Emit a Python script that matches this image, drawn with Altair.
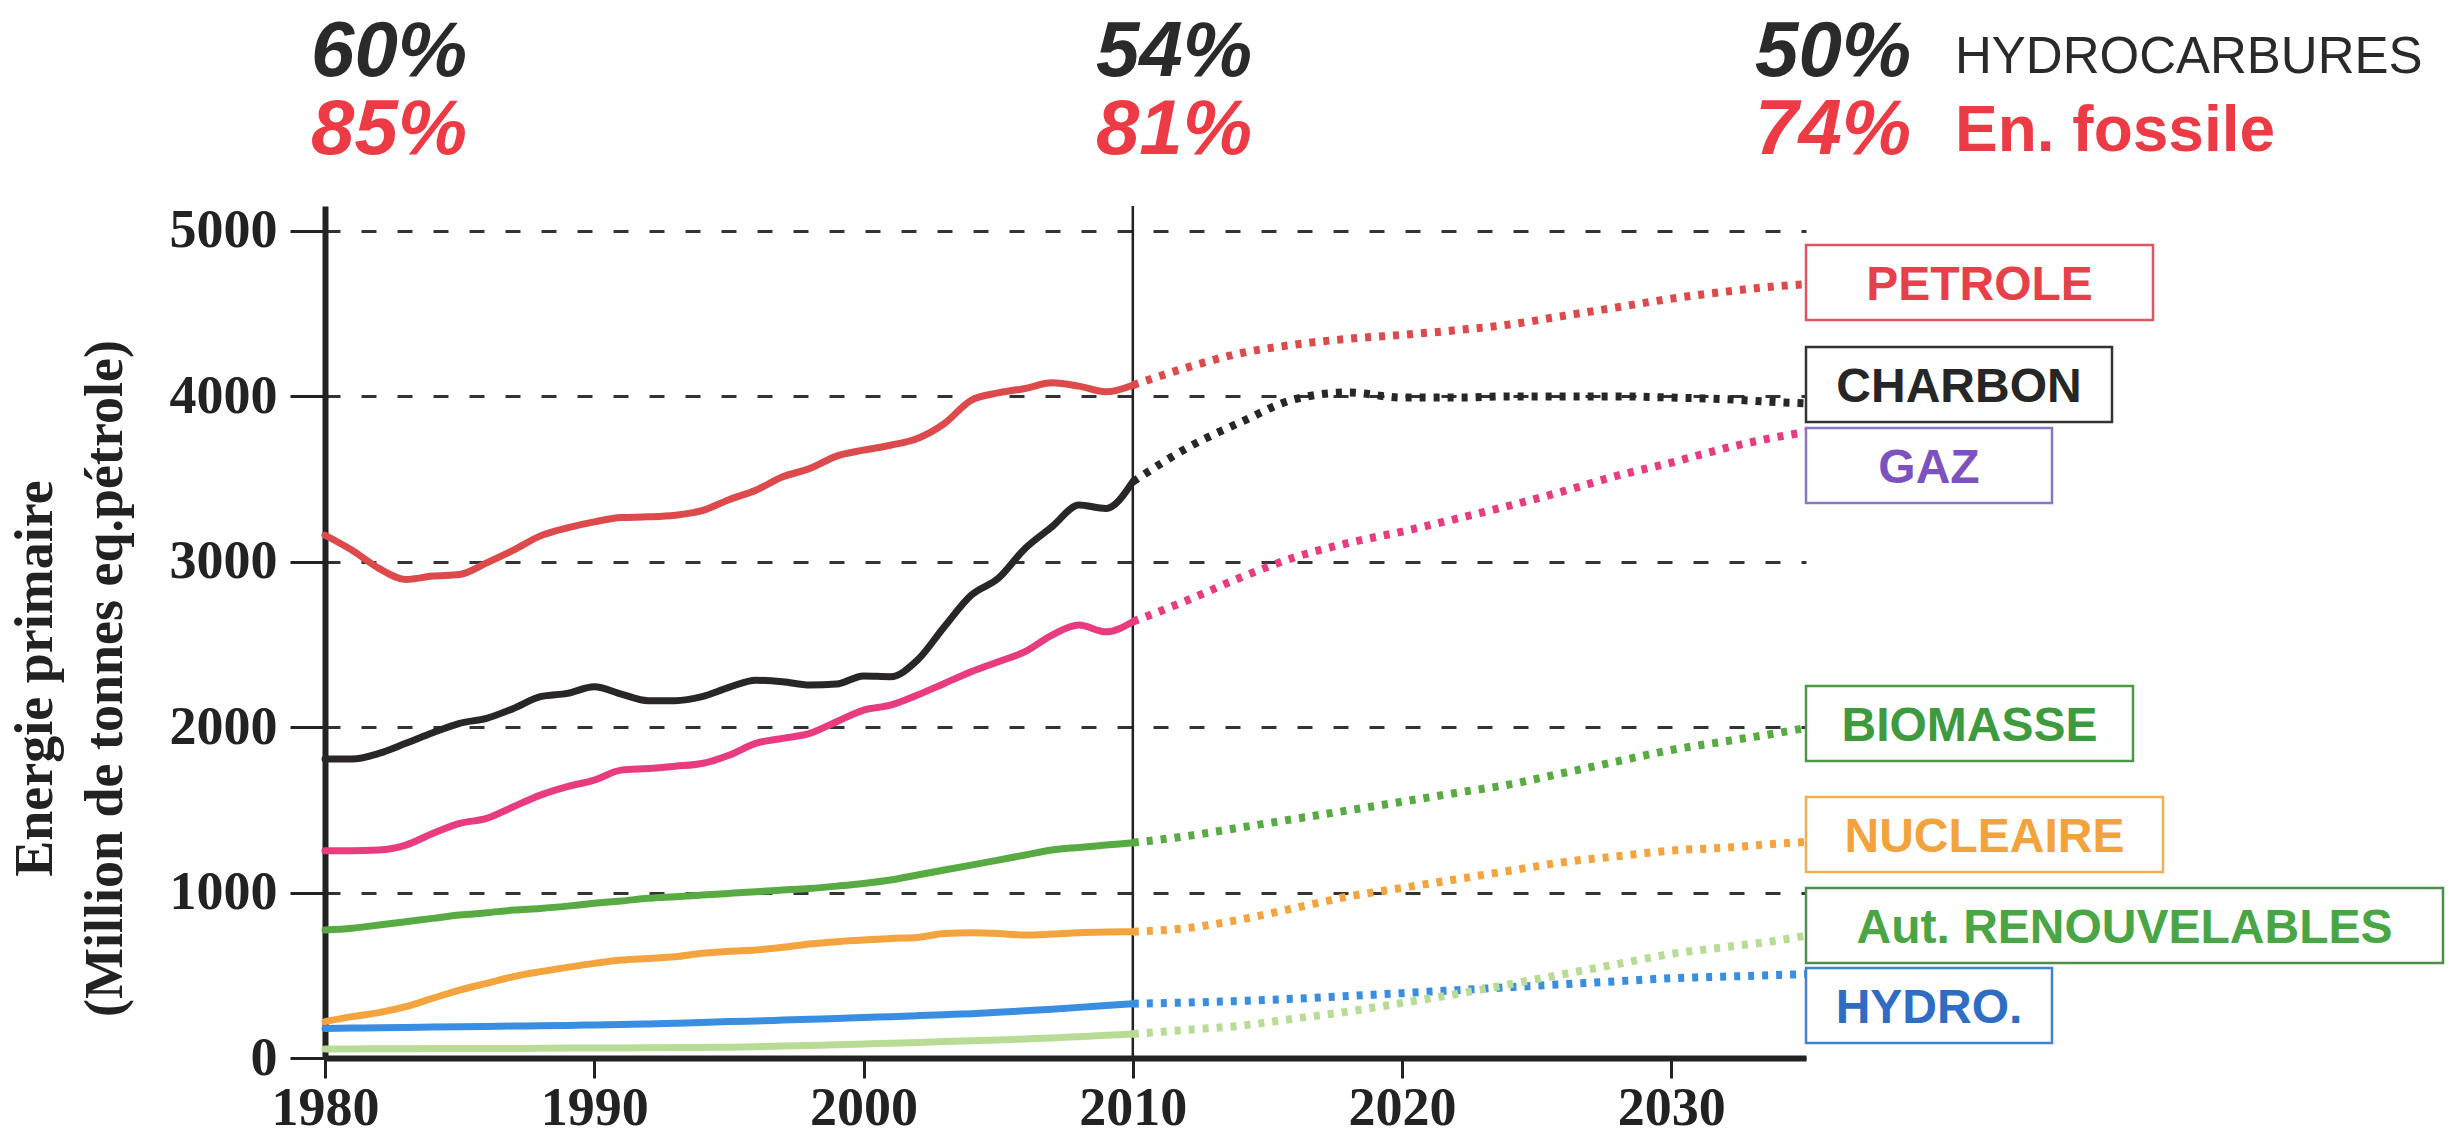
import altair as alt
import pandas as pd

# ---------------- data ----------------
SERIES = ["PETROLE", "CHARBON", "GAZ", "BIOMASSE", "NUCLEAIRE", "HYDRO.", "Aut. RENOUVELABLES"]

YEARS_HIST = list(range(1980, 2011))
PETROLE_HIST = [3160, 3070, 2960, 2893, 2913, 2923, 2993, 3070, 3156, 3205, 3241, 3267, 3271, 3281, 3308,
                3375, 3432, 3513, 3563, 3638, 3674, 3704, 3745, 3835, 3976, 4020, 4047, 4081, 4061, 4027, 4067]
CHARBON_HIST = [1807, 1807, 1841, 1902, 1966, 2023, 2053, 2113, 2184, 2204, 2244, 2200, 2160, 2160, 2184,
                2240, 2284, 2274, 2254, 2260, 2309, 2305, 2405, 2607, 2798, 2899, 3080, 3211, 3342, 3322, 3483]
GAZ_HIST = [1253, 1253, 1257, 1287, 1357, 1418, 1448, 1519, 1589, 1640, 1680, 1740, 1750, 1764, 1780,
            1830, 1902, 1932, 1962, 2033, 2103, 2133, 2194, 2264, 2335, 2395, 2456, 2556, 2617, 2576, 2637]
BIOMASSE_HIST = [773, 784, 804, 824, 844, 864, 878, 894, 904, 918, 935, 949, 965, 975, 985,
                 995, 1005, 1015, 1025, 1039, 1055, 1076, 1106, 1136, 1166, 1196, 1227, 1257, 1273, 1287, 1301]
NUCLEAIRE_HIST = [220, 250, 274, 310, 361, 411, 451, 492, 522, 548, 572, 592, 602, 612, 633,
                  645, 653, 669, 689, 703, 713, 723, 729, 753, 757, 753, 743, 749, 757, 761, 763]
HYDRO_HIST = [179, 181, 183, 185, 187, 189, 191, 193, 195, 197, 200, 203, 206, 210, 214,
              220, 224, 229, 234, 239, 245, 250, 256, 262, 268, 276, 285, 295, 306, 318, 328]
AUTRES_HIST = [55, 55, 56, 56, 57, 57, 58, 58, 59, 60, 60, 61, 62, 63, 64,
               65, 68, 72, 76, 80, 85, 89, 94, 99, 104, 109, 115, 121, 129, 137, 145]

YEARS_PROJ = [2010, 2012, 2014, 2016, 2018, 2020, 2022, 2024, 2026, 2028, 2030, 2032, 2034, 2035]
PETROLE_PROJ = [4067, 4173, 4260, 4312, 4347, 4371, 4399, 4434, 4486, 4538, 4590, 4632, 4666, 4677]
CHARBON_PROJ = [3483, 3686, 3843, 3982, 4023, 3992, 3992, 3999, 3999, 3999, 3992, 3982, 3964, 3957]
GAZ_PROJ = [2637, 2765, 2904, 3026, 3113, 3182, 3259, 3339, 3426, 3520, 3599, 3686, 3756, 3784]
BIOMASSE_PROJ = [1301, 1341, 1393, 1445, 1497, 1549, 1602, 1654, 1723, 1793, 1862, 1914, 1966, 1995]
NUCLEAIRE_PROJ = [763, 785, 837, 906, 976, 1028, 1080, 1132, 1184, 1219, 1254, 1271, 1296, 1306]
HYDRO_PROJ = [328, 335, 345, 358, 375, 392, 410, 428, 446, 464, 482, 492, 502, 507]
AUTRES_PROJ = [145, 170, 195, 238, 281, 333, 386, 446, 507, 568, 629, 670, 712, 740]

PCT_HYDROCARBURES = ["60%", "54%", "50%"]
PCT_FOSSILE = ["85%", "81%", "74%"]

Y_TICKS = [0, 1000, 2000, 3000, 4000, 5000]
X_TICKS = [1980, 1990, 2000, 2010, 2020, 2030]

# ---------------- tables ----------------
hist_vals = [PETROLE_HIST, CHARBON_HIST, GAZ_HIST, BIOMASSE_HIST, NUCLEAIRE_HIST, HYDRO_HIST, AUTRES_HIST]
proj_vals = [PETROLE_PROJ, CHARBON_PROJ, GAZ_PROJ, BIOMASSE_PROJ, NUCLEAIRE_PROJ, HYDRO_PROJ, AUTRES_PROJ]

hist = pd.DataFrame([{"series": s, "year": y, "value": v}
                     for s, vals in zip(SERIES, hist_vals) for y, v in zip(YEARS_HIST, vals)])
proj = pd.DataFrame([{"series": s, "year": y, "value": v}
                     for s, vals in zip(SERIES, proj_vals) for y, v in zip(YEARS_PROJ, vals)])

# ---------------- styles ----------------
LINE_COLORS = ["#dd4a4b", "#2a2626", "#e93c80", "#58aa42", "#f4a43e", "#3a8ee2", "#b8dc95"]
SERIF = "Liberation Serif"
SANS = "Liberation Sans"

x_scale = alt.Scale(domain=[1980, 2035], nice=False, zero=False)
y_scale = alt.Scale(domain=[0, 5150], nice=False, zero=True)

x_axis = alt.Axis(values=X_TICKS, format="d", title=None, grid=False,
                  labelFont=SERIF, labelFontWeight="bold", labelFontSize=54, labelColor="#222",
                  labelFlush=False, labelOverlap=False, labelPadding=3,
                  tickSize=20, tickWidth=3, tickColor="#222",
                  domainColor="#222", domainWidth=6)
y_axis = alt.Axis(values=Y_TICKS, format="d",
                  title=["Energie primaire", "(Million de tonnes eq.pétrole)"],
                  titleFont=SERIF, titleFontWeight="bold", titleFontSize=54, titleColor="#222",
                  titleLineHeight=70, titleAngle=270, titleAlign="center", titleBaseline="bottom",
                  titleX=-263, titleY=472,
                  labelFont=SERIF, labelFontWeight="bold", labelFontSize=54, labelColor="#222",
                  labelPadding=13, labelOverlap=False,
                  tickSize=35, tickWidth=3, tickColor="#222",
                  domainColor="#222", domainWidth=6,
                  grid=True, gridDash=[15, 21], gridColor="#333", gridWidth=3)

color = alt.Color("series:N", scale=alt.Scale(domain=SERIES, range=LINE_COLORS), legend=None)

rule2010 = alt.Chart(pd.DataFrame({"year": [2010]})).mark_rule(color="#222", strokeWidth=2.5).encode(
    x=alt.X("year:Q", scale=x_scale, axis=x_axis)
)

hist_lines = alt.Chart(hist).mark_line(strokeWidth=7, interpolate="monotone", strokeCap="round").encode(
    x=alt.X("year:Q", scale=x_scale, axis=x_axis),
    y=alt.Y("value:Q", scale=y_scale, axis=y_axis),
    color=color,
    detail="series:N",
)

proj_lines = alt.Chart(proj).mark_line(strokeWidth=8, strokeDash=[6, 8], interpolate="monotone").encode(
    x=alt.X("year:Q", scale=x_scale, axis=x_axis),
    y=alt.Y("value:Q", scale=y_scale, axis=y_axis),
    color=color,
    detail="series:N",
)

# ---------------- label boxes (layout in plot pixels) ----------------
BOX_LAYOUT = [
    # name, center y, right x, text colour, border colour
    ("PETROLE", 76.5, 1828, "#e8404a", "#e05560"),
    ("CHARBON", 178.5, 1787, "#262626", "#333333"),
    ("GAZ", 259.5, 1727, "#7b52be", "#8b75c5"),
    ("BIOMASSE", 517.5, 1808, "#3d9a3e", "#4a9a45"),
    ("NUCLEAIRE", 628.5, 1838, "#f3a33c", "#f0b050"),
    ("Aut. RENOUVELABLES", 719.5, 2118, "#4aa544", "#4d8f48"),
    ("HYDRO.", 799.5, 1727, "#2f6cc4", "#3f82d6"),
]
BOX_LEFT = 1481
BOX_H = 75

label_layers = []
for name, cy, right, tcol, bcol in BOX_LAYOUT:
    d = pd.DataFrame({"label": [name]})
    label_layers.append(
        alt.Chart(d).mark_rect(fill="white", stroke=bcol, strokeWidth=2.5).encode(
            x=alt.value(BOX_LEFT), x2=alt.value(right),
            y=alt.value(cy - BOX_H / 2), y2=alt.value(cy + BOX_H / 2))
    )
    label_layers.append(
        alt.Chart(d).mark_text(font=SANS, fontWeight="bold", fontSize=48, color=tcol,
                               align="center", baseline="alphabetic").encode(
            x=alt.value((BOX_LEFT + right) / 2), y=alt.value(cy + 17), text="label:N")
    )

# ---------------- top annotations ----------------
ann_layers = []
PCT_LAYOUT = [(-14, "left"), (927, "right"), (1430, "left")]
for (px, al), t1, t2 in zip(PCT_LAYOUT, PCT_HYDROCARBURES, PCT_FOSSILE):
    ann_layers.append(
        alt.Chart(pd.DataFrame({"t": [t1]})).mark_text(
            font=SANS, fontWeight="bold", fontStyle="italic", fontSize=78, color="#2a2a2a",
            align=al, baseline="alphabetic").encode(x=alt.value(px), y=alt.value(-130), text="t:N"))
    ann_layers.append(
        alt.Chart(pd.DataFrame({"t": [t2]})).mark_text(
            font=SANS, fontWeight="bold", fontStyle="italic", fontSize=78, color="#ec3b45",
            align=al, baseline="alphabetic").encode(x=alt.value(px), y=alt.value(-52), text="t:N"))

ann_layers.append(
    alt.Chart(pd.DataFrame({"t": ["HYDROCARBURES"]})).mark_text(
        font=SANS, fontSize=51, color="#2a2a2a", align="left", baseline="alphabetic").encode(
        x=alt.value(1630), y=alt.value(-133), text="t:N"))
ann_layers.append(
    alt.Chart(pd.DataFrame({"t": ["En. fossile"]})).mark_text(
        font=SANS, fontWeight="bold", fontSize=64, color="#ec3b45", align="left", baseline="alphabetic").encode(
        x=alt.value(1630), y=alt.value(-55), text="t:N"))

chart = alt.layer(rule2010, hist_lines, proj_lines, *label_layers, *ann_layers).properties(
    width=1481, height=852,
    padding={"left": 317, "top": 198, "right": 645, "bottom": 72},
    autosize=alt.AutoSizeParams(type="none"),
    background="white",
).configure_view(stroke=None)

chart.save("out.html", embed_options={"renderer": "svg", "actions": False})
